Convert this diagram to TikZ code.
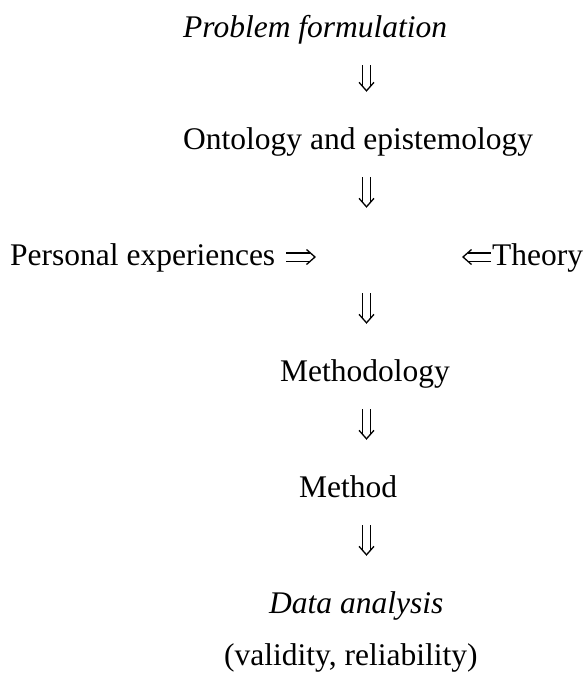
\documentclass[tikz,border=0pt]{standalone}
\usepackage{fontspec}
\setmainfont{Liberation Serif}
\usetikzlibrary{arrows.meta}

% open chevron for the double arrows
\pgfdeclarearrow{
  name = DImp,
  setup code = {
    \pgfarrowssettipend{1pt}
    \pgfarrowssetlineend{-4.6pt}
    \pgfarrowssetbackend{-9pt}
    \pgfarrowshullpoint{1pt}{0pt}
    \pgfarrowshullpoint{-9pt}{8pt}
    \pgfarrowshullpoint{-9pt}{-8pt}
  },
  drawing code = {
    \pgfsetinnerlinewidth{0pt}
    \pgfsetlinewidth{1.3pt}
    \pgfsetdash{}{0pt}
    \pgfsetmiterjoin
    \pgfpathmoveto{\pgfqpoint{-8.5pt}{7.5pt}}
    \pgfpathlineto{\pgfqpoint{0pt}{0pt}}
    \pgfpathlineto{\pgfqpoint{-8.5pt}{-7.5pt}}
    \pgfusepathqstroke
  }
}

\begin{document}
\begin{tikzpicture}[x=1pt,y=-1pt,
	txt/.style={inner sep=0pt,anchor=base west,text height=24pt,text depth=8pt,font=\fontsize{31.5}{38}\selectfont},
	dar/.style={double,double distance=7pt,line width=1.3pt,-DImp,shorten <=20pt,shorten >=33pt}]
	\useasboundingbox (0,0) rectangle (586,675);
	% Column of the down arrows
	\coordinate (col) at (366.5,0);
	
	% Draw the steps
	\node[txt] (pf) at (183,37) {\itshape Problem formulation};
	\node[txt] (onto) at (183,149) {Ontology and epistemology};
	\node[txt] (pers) at (10,265) {Personal experiences};
	\node[txt] (theory) at (492,265) {Theory};
	\node[txt] (meth) at (280,381) {Methodology};
	\node[txt] (mtd) at (299,497) {Method};
	\node[txt] (data) at (269,613) {\itshape Data analysis};
	\node[txt] (valid) at (224,665) {(validity, reliability)};
	
	% Draw the down arrows
	\draw[dar] (pf.south -| col) -- (onto.north -| col);
	\draw[dar] (onto.south -| col) -- (pers.north -| col);
	\draw[dar] (pers.south -| col) -- (meth.north -| col);
	\draw[dar] (meth.south -| col) -- (mtd.north -| col);
	\draw[dar] (mtd.south -| col) -- (data.north -| col);
	
	% Draw the side arrows
	\coordinate (pe) at (316,257);
	\coordinate (te) at (462,257);
	\draw[dar,shorten <=11pt,shorten >=0pt] (pers.east) -- (pe);
	\draw[dar,shorten <=1pt,shorten >=0pt] (theory.west) -- (te);
	
\end{tikzpicture}
\end{document}
